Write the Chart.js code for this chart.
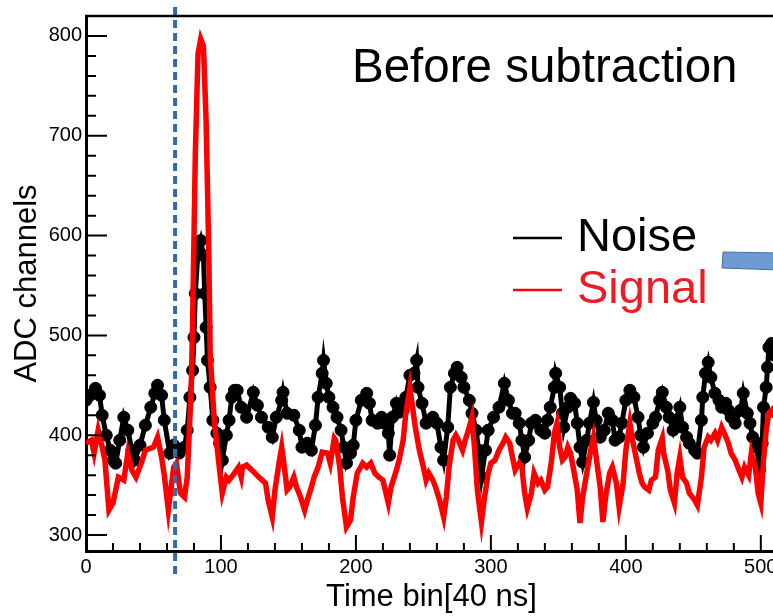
<!DOCTYPE html>
<html>
<head>
<meta charset="utf-8">
<title>ADC channels - before subtraction</title>
<script src="https://cdn.jsdelivr.net/npm/chart.js@4.4.1/dist/chart.umd.min.js"></script>
<style>
    html, body { margin: 0; padding: 0; background: #fff; overflow: hidden; }
    #chart-wrap { width: 790px; height: 616px; }
</style>
</head>
<body>
<div id="chart-wrap"><canvas id="adc-chart" width="790" height="616"></canvas></div>
<script>
// Noise trace (black, with markers) - time bin / ADC value
const noiseBins = [
    0, 3, 7, 10, 12, 15, 18, 20, 22, 25,
    28, 31, 34, 36, 40, 44, 48, 51, 53, 56,
    58, 62, 65, 69, 73, 75, 77, 79, 80, 81,
    83, 85, 87, 88, 89, 90, 92, 94, 97, 99,
    101, 104, 106, 108, 110, 112, 115, 119, 124, 127,
    130, 135, 138, 141, 145, 146, 149, 154, 158, 160,
    164, 167, 170, 172, 175, 176, 178, 180, 183, 186,
    189, 191, 193, 196, 198, 200, 204, 208, 210, 212,
    216, 219, 221, 224, 225, 227, 230, 232, 235, 237,
    240, 243, 245, 246, 249, 252, 255, 257, 260, 263,
    265, 268, 270, 273, 275, 278, 280, 284, 286, 289,
    291, 293, 296, 298, 302, 306, 310, 313, 316, 318,
    321, 323, 325, 328, 330, 333, 337, 340, 342, 344,
    347, 348, 351, 353, 354, 357, 359, 362, 364, 366,
    368, 371, 373, 376, 378, 381, 384, 387, 390, 392,
    395, 397, 400, 403, 406, 409, 411, 413, 416, 420,
    422, 425, 427, 430, 432, 435, 437, 440, 442, 445,
    447, 451, 453, 456, 457, 459, 461, 463, 466, 469,
    471, 474, 476, 478, 481, 485, 487, 490, 492, 494,
    497, 499, 501, 502, 504, 505, 506, 508, 510
];
const noiseAdc = [
    435, 440, 447, 440, 420, 400, 385, 375, 372, 395,
    418, 405, 385, 375, 390, 410, 428, 442, 450, 440,
    415, 382, 390, 382, 388, 405, 438, 465, 498, 542,
    585, 595, 580, 542, 508, 475, 448, 415, 402, 392,
    375, 400, 415, 438, 445, 445, 428, 418, 443, 430,
    418, 408, 398, 418, 435, 443, 422, 420, 405, 388,
    392, 385, 410, 438, 462, 475, 452, 438, 428, 418,
    405, 388, 372, 382, 390, 415, 435, 442, 432, 415,
    412, 418, 412, 402, 380, 418, 432, 423, 425, 438,
    460, 462, 475, 448, 432, 412, 415, 418, 412, 388,
    375, 408, 448, 462, 468, 458, 448, 435, 422, 405,
    385, 358, 385, 405, 418, 428, 452, 435, 422, 422,
    412, 395, 378, 395, 412, 415, 405, 402, 415, 428,
    448, 462, 448, 422, 408, 428, 437, 432, 412, 388,
    373, 395, 412, 433, 415, 398, 405, 422, 415, 395,
    398, 412, 435, 445, 438, 418, 400, 388, 402, 412,
    418, 435, 443, 428, 418, 405, 415, 428, 408, 398,
    392, 385, 382, 415, 438, 462, 473, 458, 442, 435,
    428, 432, 425, 418, 412, 425, 442, 422, 412, 398,
    388, 365, 392, 428, 448, 468, 488, 492, 480
];

// Signal trace (red line)
const signalBins = [
    0, 4, 6, 9, 12, 14, 17, 20, 24, 28,
    31, 34, 37, 41, 44, 50, 53, 56, 58, 61,
    65, 67, 70, 73, 75, 78, 79, 81, 83, 85,
    87, 89, 91, 92, 95, 99, 101, 104, 106, 110,
    113, 115, 116, 119, 123, 128, 133, 135, 138, 140,
    143, 145, 147, 149, 151, 154, 156, 159, 162, 164,
    167, 169, 172, 175, 179, 181, 184, 185, 188, 190,
    193, 196, 198, 201, 205, 208, 211, 214, 217, 220,
    224, 226, 230, 232, 235, 237, 240, 242, 244, 247,
    250, 252, 254, 257, 259, 262, 265, 267, 269, 272,
    274, 276, 279, 281, 284, 286, 288, 290, 293, 295,
    298, 300, 303, 306, 309, 311, 314, 316, 318, 321,
    323, 325, 327, 330, 332, 335, 337, 340, 342, 345,
    347, 349, 351, 353, 355, 357, 359, 361, 364, 366,
    368, 371, 374, 376, 378, 381, 383, 385, 388, 390,
    393, 395, 398, 400, 403, 405, 408, 410, 412, 414,
    417, 419, 422, 424, 427, 428, 431, 433, 436, 438,
    440, 442, 445, 447, 451, 453, 456, 458, 461, 463,
    466, 468, 471, 473, 476, 478, 481, 483, 486, 488,
    491, 493, 496, 498, 500, 502, 504, 506, 508, 510
];
const signalAdc = [
    392, 395, 382, 405, 388, 375, 325, 332, 358, 355,
    382, 365, 358, 372, 385, 388, 398, 378, 360, 325,
    368, 372, 342, 338, 358, 448, 515, 682, 782, 797,
    790, 715, 582, 482, 415, 365, 342, 358, 355, 362,
    368, 358, 368, 370, 365, 358, 352, 335, 318, 345,
    372, 388, 368, 345, 348, 358, 348, 338, 325, 335,
    348, 358, 368, 383, 382, 372, 397, 395, 368, 338,
    308, 315, 338, 362, 372, 368, 372, 362, 358, 355,
    332, 348, 365, 375, 395, 422, 448, 428, 408, 385,
    368, 355, 362, 355, 348, 335, 318, 338, 368, 395,
    400, 395, 385, 395, 408, 418, 385, 345, 313, 335,
    362, 372, 375, 385, 392, 398, 392, 378, 365, 372,
    368, 342, 327, 342, 362, 352, 355, 345, 348, 375,
    402, 412, 388, 375, 378, 388, 382, 368, 345, 312,
    338, 362, 385, 398, 378, 348, 313, 338, 362, 368,
    352, 328, 352, 385, 412, 395, 375, 362, 352, 348,
    345, 355, 358, 385, 397, 382, 365, 345, 332, 362,
    378, 358, 352, 342, 335, 330, 358, 388, 398, 395,
    402, 395, 408, 402, 392, 382, 375, 368, 358, 368,
    360, 382, 368, 342, 332, 375, 405, 422, 425, 418
];

const xTickValues = [0, 100, 200, 300, 400, 500];
const yTickValues = [300, 400, 500, 600, 700, 800];
const triggerBin = 66;   // dotted blue line
const seriesLabels = ['Noise', 'Signal'];
const titleText = 'Before subtraction';

const FONT = '"Liberation Sans", Arial, sans-serif';

function toPoints(bins, values) {
    return bins.map((b, i) => ({ x: b, y: values[i] }));
}

// inward major/minor ticks, top frame, trigger line, text and the arrow stub
const slideDecor = {
    id: 'slideDecor',
    afterDatasetsDraw(chart) {
        const { ctx, chartArea: area, scales: { x, y } } = chart;
        ctx.save();

        // trigger marker
        const tx = x.getPixelForValue(triggerBin);
        ctx.strokeStyle = '#3569ad';
        ctx.lineWidth = 4;
        ctx.setLineDash([8, 5]);
        ctx.beginPath();
        ctx.moveTo(tx, 7);
        ctx.lineTo(tx, 578);
        ctx.stroke();
        ctx.setLineDash([]);

        // ticks
        ctx.strokeStyle = '#000';
        ctx.lineWidth = 2;
        ctx.beginPath();
        for (let v = 0; v <= x.max; v += 20) {
            const px = x.getPixelForValue(v);
            const len = v % 100 === 0 ? 16 : 8;
            ctx.moveTo(px, area.bottom);
            ctx.lineTo(px, area.bottom - len);
        }
        for (let v = 300; v <= y.max; v += 20) {
            const py = y.getPixelForValue(v);
            const len = v % 100 === 0 ? 21 : 10;
            ctx.moveTo(area.left, py);
            ctx.lineTo(area.left + len, py);
        }
        ctx.stroke();

        // top frame
        ctx.lineWidth = 2.5;
        ctx.beginPath();
        ctx.moveTo(area.left - 1, area.top);
        ctx.lineTo(area.right, area.top);
        ctx.stroke();

        // title
        ctx.fillStyle = '#000';
        ctx.font = '47.5px ' + FONT;
        ctx.textAlign = 'left';
        ctx.textBaseline = 'alphabetic';
        ctx.fillText(titleText, 352, 82);

        // legend
        ctx.font = '47px ' + FONT;
        const legendRows = [251, 303];
        chart.data.datasets.forEach((ds, i) => {
            const base = legendRows[i];
            ctx.strokeStyle = ds.borderColor;
            ctx.lineWidth = 2.5;
            ctx.beginPath();
            ctx.moveTo(513, base - 13);
            ctx.lineTo(562, base - 13);
            ctx.stroke();
            ctx.fillStyle = i === 0 ? '#000' : '#ed1c24';
            ctx.fillText(ds.label, 577, base);
        });

        // arrow stub from the slide
        ctx.fillStyle = '#6f9bd3';
        ctx.strokeStyle = '#41719c';
        ctx.lineWidth = 1;
        ctx.beginPath();
        ctx.moveTo(723, 252);
        ctx.lineTo(780, 253);
        ctx.lineTo(780, 270);
        ctx.lineTo(722, 268);
        ctx.closePath();
        ctx.fill();
        ctx.stroke();

        ctx.restore();
    }
};

document.addEventListener('DOMContentLoaded', () => {
    Chart.defaults.font.family = FONT;
    Chart.defaults.color = '#000';

    const ctx = document.getElementById('adc-chart').getContext('2d');
    new Chart(ctx, {
        type: 'line',
        data: {
            datasets: [{
                label: seriesLabels[0],
                data: toPoints(noiseBins, noiseAdc),
                borderColor: '#000000',
                backgroundColor: '#000000',
                borderWidth: 5,
                pointRadius: 6,
                pointBorderWidth: 1,
                pointBackgroundColor: '#000000',
                tension: 0,
                order: 1
            }, {
                label: seriesLabels[1],
                data: toPoints(signalBins, signalAdc),
                borderColor: '#ff0000',
                backgroundColor: '#ff0000',
                borderWidth: 5.5,
                pointRadius: 0,
                tension: 0,
                order: 0
            }]
        },
        options: {
            responsive: false,
            animation: false,
            layout: { padding: { top: 15, right: 13, left: 0, bottom: 0 } },
            plugins: {
                legend: { display: false },
                tooltip: { enabled: false }
            },
            scales: {
                x: {
                    type: 'linear',
                    min: 0,
                    max: 512,
                    afterFit: scale => { scale.height = 65; },
                    afterBuildTicks: scale => { scale.ticks = xTickValues.map(v => ({ value: v })); },
                    grid: { display: false, drawTicks: false },
                    border: { display: true, color: '#000', width: 3 },
                    ticks: { padding: 4, maxRotation: 0, font: { size: 20 } },
                    title: {
                        display: true,
                        text: 'Time bin[40 ns]',
                        font: { size: 31 },
                        padding: 0
                    }
                },
                y: {
                    type: 'linear',
                    min: 284,
                    max: 820,
                    afterFit: scale => { scale.width = 86; },
                    afterBuildTicks: scale => { scale.ticks = yTickValues.map(v => ({ value: v })); },
                    grid: { display: false, drawTicks: false },
                    border: { display: true, color: '#000', width: 3 },
                    ticks: { padding: 4, font: { size: 20 } },
                    title: {
                        display: true,
                        text: 'ADC channels',
                        font: { size: 31 },
                        padding: { top: 9, bottom: 0 }
                    }
                }
            }
        },
        plugins: [slideDecor]
    });
});
</script>
</body>
</html>
